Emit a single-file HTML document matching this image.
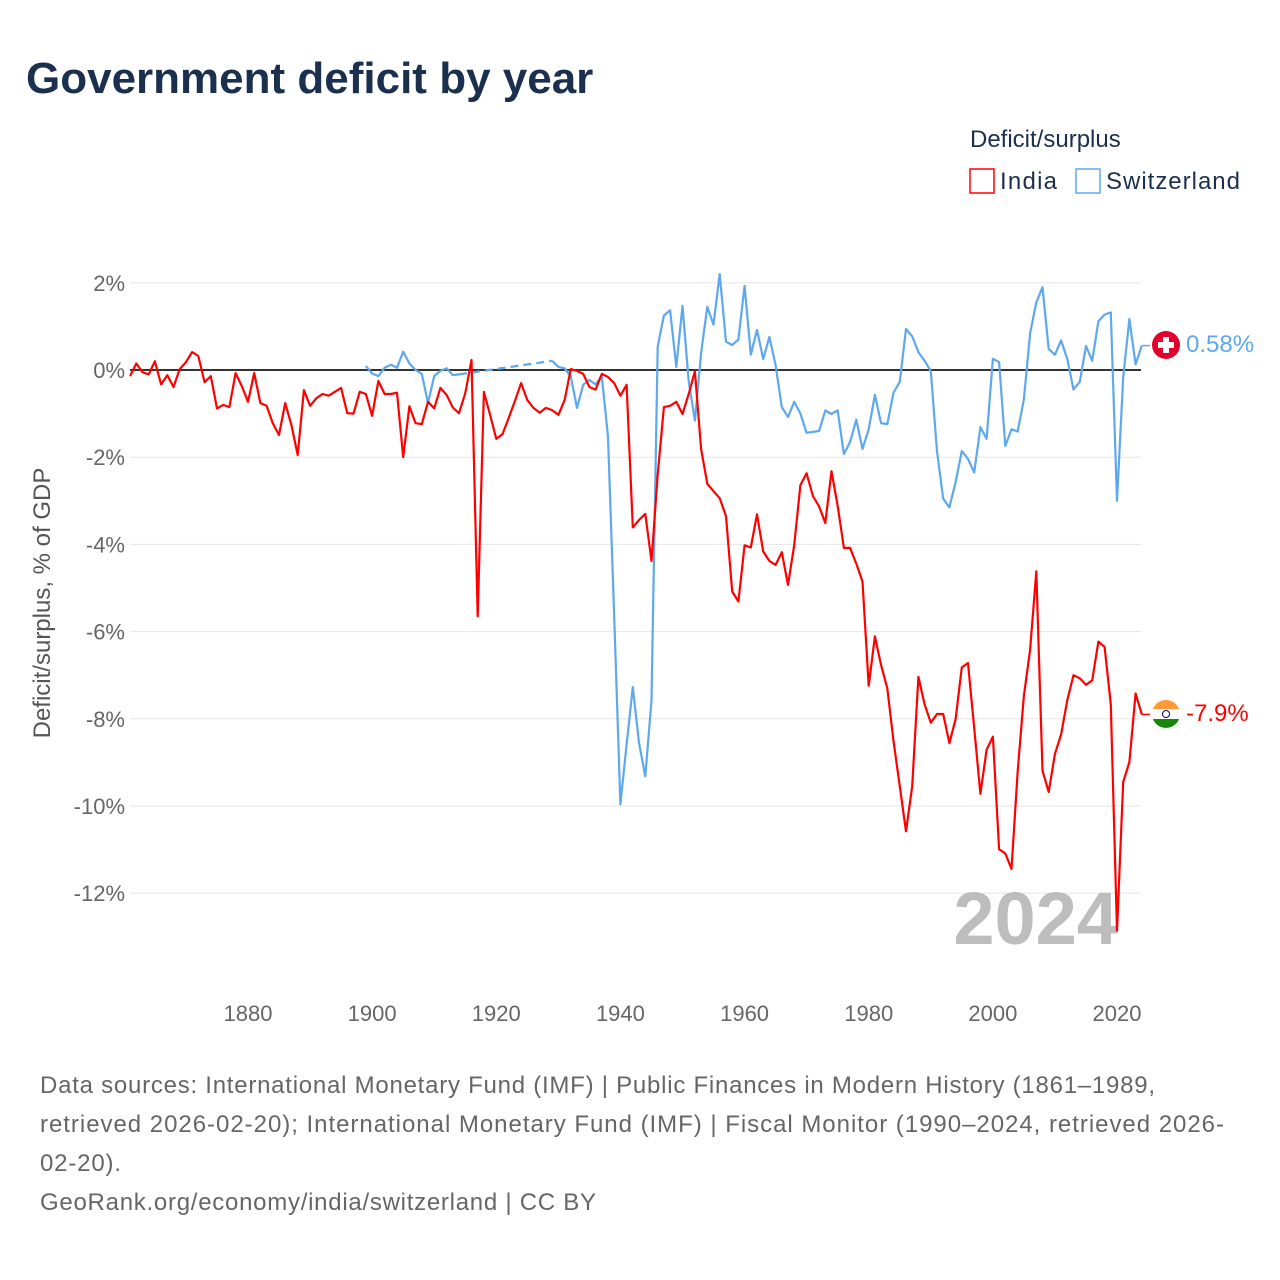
<!DOCTYPE html>
<html><head><meta charset="utf-8">
<style>
body{margin:0;background:#fff;font-family:"Liberation Sans",sans-serif;}
#wrap{position:relative;width:1280px;height:1280px;overflow:hidden;}
</style></head>
<body>
<div id="wrap">
<svg id="chart" width="1280" height="1280" xmlns="http://www.w3.org/2000/svg">
<text x="26" y="93" font-size="44" font-weight="bold" fill="#1b2f4e">Government deficit by year</text>
<text x="970" y="147" font-size="24" fill="#1b2f4e">Deficit/surplus</text>
<g>
<rect x="970" y="169" width="24" height="24" fill="none" stroke="#ff0000" stroke-width="1.5"/>
<text x="1000" y="189" font-size="24" fill="#1b2f4e" textLength="57">India</text></g>
<g>
<rect x="1076" y="169" width="24" height="24" fill="none" stroke="#5ea8ee" stroke-width="1.5"/>
<text x="1106" y="189" font-size="24" fill="#1b2f4e" textLength="134">Switzerland</text></g>
<g id="grid"></g>
<g id="yticks"></g>
<g id="xticks"></g>
<text x="50" y="603" font-size="24" fill="#555" text-anchor="middle" transform="rotate(-90 50 603)">Deficit/surplus, % of GDP</text>
<text x="1118" y="944" font-size="74" font-weight="bold" fill="#bdbdbd" text-anchor="end">2024</text>
<g id="series"></g>
<g>
<circle cx="1166" cy="345" r="14" fill="#e3002a"/>
<rect x="1163" y="337" width="6" height="16" fill="#fff"/><rect x="1158" y="342" width="16" height="6" fill="#fff"/></g>
<text x="1186" y="352" font-size="24" fill="#5ea8ee">0.58%</text>
<g>
<clipPath id="ic"><circle cx="1166" cy="714" r="14"/></clipPath>
<g clip-path="url(#ic)"><rect x="1150" y="699" width="32" height="10" fill="#ff9933"/><rect x="1150" y="709" width="32" height="10" fill="#fff"/><rect x="1150" y="719" width="32" height="12" fill="#138808"/></g>
<circle cx="1166" cy="714" r="3.5" fill="none" stroke="#000080" stroke-width="1"/></g>
<text x="1186" y="721" font-size="24" fill="#ff0000">-7.9%</text>
<g font-size="24" fill="#666">
<text x="40" y="1093" textLength="1115">Data sources: International Monetary Fund (IMF) | Public Finances in Modern History (1861–1989,</text>
<text x="40" y="1132" textLength="1184">retrieved 2026-02-20); International Monetary Fund (IMF) | Fiscal Monitor (1990–2024, retrieved 2026-</text>
<text x="40" y="1171" textLength="81">02-20).</text>
<text x="40" y="1210" textLength="556">GeoRank.org/economy/india/switzerland | CC BY</text>
</g>
</svg>
</div>
<script>
const startYear = 1861;
const india = [-0.14,0.15,-0.05,-0.1,0.2,-0.33,-0.12,-0.39,0.02,0.18,0.41,0.32,-0.28,-0.14,-0.88,-0.8,-0.85,-0.07,-0.37,-0.73,
-0.07,-0.76,-0.82,-1.22,-1.49,-0.76,-1.26,-1.95,-0.46,-0.82,-0.65,-0.55,-0.59,-0.5,-0.41,-0.99,-1.0,-0.5,-0.55,-1.05,
-0.25,-0.55,-0.55,-0.52,-2.0,-0.83,-1.22,-1.24,-0.73,-0.88,-0.41,-0.57,-0.86,-0.99,-0.53,0.23,-5.65,-0.5,-1.03,-1.58,
-1.47,-1.1,-0.71,-0.3,-0.69,-0.87,-0.98,-0.87,-0.92,-1.03,-0.69,0.02,-0.02,-0.09,-0.39,-0.45,-0.09,-0.16,-0.3,-0.59,
-0.34,-3.61,-3.44,-3.3,-4.38,-2.4,-0.85,-0.82,-0.73,-1.01,-0.55,-0.03,-1.81,-2.61,-2.78,-2.94,-3.35,-5.08,-5.31,-4.02,
-4.07,-3.31,-4.16,-4.38,-4.47,-4.18,-4.93,-4.02,-2.64,-2.37,-2.89,-3.13,-3.51,-2.32,-3.12,-4.08,-4.08,-4.44,-4.85,-7.24,
-6.11,-6.77,-7.3,-8.51,-9.55,-10.58,-9.55,-7.04,-7.67,-8.09,-7.89,-7.89,-8.56,-8.01,-6.82,-6.72,-8.21,-9.72,-8.71,-8.41,
-10.99,-11.09,-11.44,-9.2,-7.47,-6.42,-4.62,-9.19,-9.68,-8.81,-8.36,-7.57,-7.0,-7.07,-7.22,-7.12,-6.23,-6.35,-7.67,-12.86,
-9.45,-8.99,-7.42,-7.9];
const swissStart = 1899;
const swiss = [0.09,-0.08,-0.14,0.05,0.12,0.05,0.42,0.15,0.0,-0.09,-0.76,-0.14,-0.02,0.04,-0.12,-0.1,
null,null,null,null,null,null,null,null,null,null,null,null,null,null,
0.21,0.07,0.04,-0.15,-0.87,-0.34,-0.23,-0.33,-0.14,-1.53,-5.65,-9.96,-8.59,-7.27,-8.55,-9.32,-7.57,0.54,1.25,1.37,
0.07,1.47,-0.26,-1.16,0.39,1.45,1.04,2.2,0.65,0.57,0.7,1.93,0.35,0.92,0.25,0.76,0.11,-0.85,-1.08,-0.73,
-1.0,-1.44,-1.42,-1.4,-0.93,-1.01,-0.93,-1.93,-1.65,-1.14,-1.81,-1.36,-0.57,-1.22,-1.24,-0.52,-0.27,0.94,0.77,0.41,
0.21,-0.02,-1.86,-2.95,-3.15,-2.57,-1.86,-2.04,-2.35,-1.31,-1.58,0.26,0.18,-1.74,-1.36,-1.41,-0.67,0.84,1.55,1.9,
0.48,0.35,0.68,0.25,-0.45,-0.27,0.55,0.21,1.12,1.27,1.32,-3.0,-0.17,1.17,0.13,0.56];
const yTicks = [2,0,-2,-4,-6,-8,-10,-12];
const xTicks = [1880,1900,1920,1940,1960,1980,2000,2020];

const NS = "http://www.w3.org/2000/svg";
const X = yr => 248 + (yr - 1880) * (1117 - 248) / 140;
const Y = v => 370 - v * 43.6;
function mk(tag, attrs, parent){const e=document.createElementNS(NS,tag);for(const k in attrs)e.setAttribute(k,attrs[k]);parent.appendChild(e);return e;}
const grid=document.getElementById('grid'), yt=document.getElementById('yticks'), xt=document.getElementById('xticks'), ser=document.getElementById('series');
yTicks.forEach(t=>{
  if(t!==0){const l=mk('line',{x1:130,x2:1141,y1:Y(t),y2:Y(t),stroke:'#e6e6e6','stroke-width':1},grid);
  
  }
  const tx=mk('text',{x:125,y:Y(t)+8,'font-size':22,fill:'#666','text-anchor':'end'},yt);
  tx.textContent=t+'%';
  
  
});
xTicks.forEach(t=>{
  const tx=mk('text',{x:X(t),y:1021,'font-size':22,fill:'#666','text-anchor':'middle'},xt);
  tx.textContent=t;
  
  
});
const zl=mk('line',{x1:130,x2:1141,y1:Y(0),y2:Y(0),stroke:'#333','stroke-width':2},grid);



function drawSeries(vals,start,color,name){
  let segs=[],cur=[],last=null,dashes=[];
  vals.forEach((v,i)=>{
    const yr=start+i;
    if(v===null){if(cur.length){segs.push(cur);cur=[];}return;}
    if(last&&last.i!==i-1&&!cur.length){dashes.push([last.p,[X(yr),Y(v)]]);}
    cur.push([X(yr),Y(v)]);last={i,p:[X(yr),Y(v)]};
  });
  if(cur.length)segs.push(cur);
  segs.forEach(s=>{
    const p=mk('path',{d:'M'+s.map(q=>q[0].toFixed(1)+','+q[1].toFixed(1)).join('L'),fill:'none',stroke:color,'stroke-width':2.2,'stroke-linejoin':'round'},ser);
    
    
  });
  dashes.forEach(d=>{
    const p=mk('path',{d:'M'+d[0].join(',')+'L'+d[1].join(','),fill:'none',stroke:color,'stroke-width':2.2,'stroke-dasharray':'8,5'},ser);
    
    
  });
}
drawSeries(swiss,swissStart,'#5ea8ee','switzerland');
drawSeries(india,startYear,'#ff0000','india');
const c1=mk('line',{x1:X(2024),x2:1150,y1:Y(swiss[swiss.length-1]),y2:Y(swiss[swiss.length-1]),stroke:'#5ea8ee','stroke-width':1.5},ser);


const c2=mk('line',{x1:X(2024),x2:1150,y1:Y(india[india.length-1]),y2:Y(india[india.length-1]),stroke:'#ff0000','stroke-width':1.5},ser);


</script>
</body></html>
